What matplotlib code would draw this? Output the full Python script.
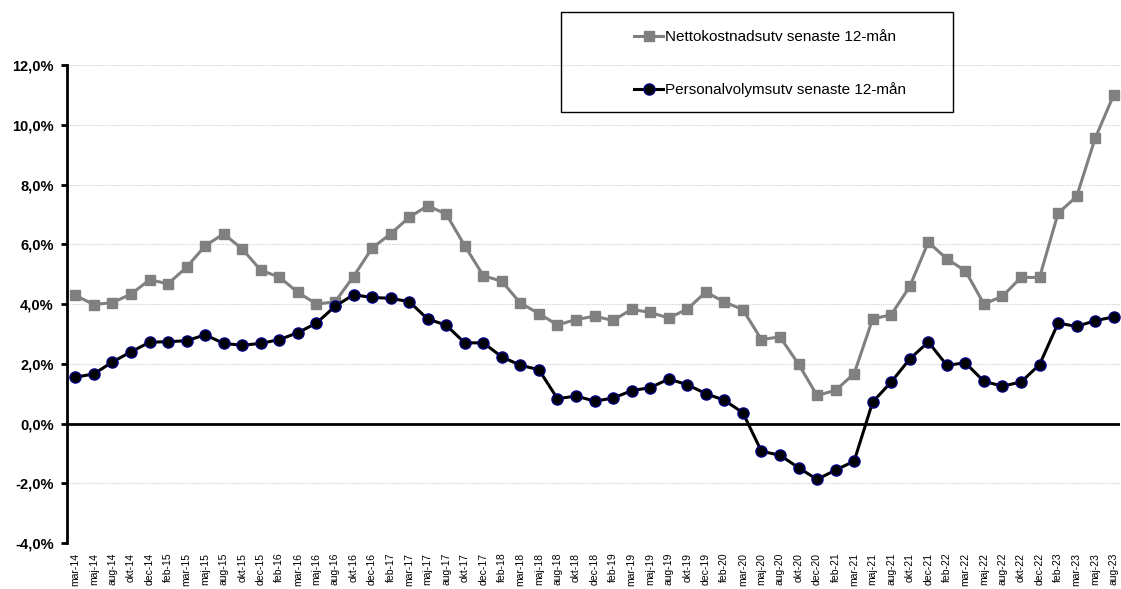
import matplotlib.pyplot as plt
from matplotlib.patches import Rectangle
from matplotlib.ticker import FuncFormatter

plt.rcParams['font.family'] = ['Liberation Sans', 'DejaVu Sans']

months = ["mar-14", "maj-14", "aug-14", "okt-14", "dec-14",
          "feb-15", "mar-15", "maj-15", "aug-15", "okt-15", "dec-15",
          "feb-16", "mar-16", "maj-16", "aug-16", "okt-16", "dec-16",
          "feb-17", "mar-17", "maj-17", "aug-17", "okt-17", "dec-17",
          "feb-18", "mar-18", "maj-18", "aug-18", "okt-18", "dec-18",
          "feb-19", "mar-19", "maj-19", "aug-19", "okt-19", "dec-19",
          "feb-20", "mar-20", "maj-20", "aug-20", "okt-20", "dec-20",
          "feb-21", "mar-21", "maj-21", "aug-21", "okt-21", "dec-21",
          "feb-22", "mar-22", "maj-22", "aug-22", "okt-22", "dec-22",
          "feb-23", "mar-23", "maj-23", "aug-23"]

# Nettokostnadsutveckling senaste 12 mån (%)
netto = [4.29, 3.98, 4.05, 4.33, 4.81, 4.68, 5.23, 5.95, 6.35, 5.84, 5.13,
         4.90, 4.39, 4.00, 4.07, 4.92, 5.87, 6.35, 6.90, 7.29, 7.01, 5.95,
         4.95, 4.76, 4.03, 3.68, 3.30, 3.48, 3.59, 3.45, 3.82, 3.72, 3.53,
         3.83, 4.40, 4.07, 3.81, 2.81, 2.90, 1.99, 0.94, 1.11, 1.67, 3.50,
         3.64, 4.59, 6.07, 5.51, 5.11, 4.00, 4.26, 4.89, 4.89, 7.04, 7.60,
         9.55, 11.00]

# Personalvolymsutveckling senaste 12 mån (%)
personal = [1.55, 1.66, 2.06, 2.40, 2.72, 2.74, 2.77, 2.97, 2.68, 2.62, 2.68,
            2.81, 3.04, 3.36, 3.92, 4.31, 4.22, 4.19, 4.08, 3.50, 3.29, 2.70,
            2.70, 2.23, 1.95, 1.80, 0.83, 0.92, 0.75, 0.85, 1.10, 1.20, 1.49,
            1.30, 1.00, 0.78, 0.36, -0.93, -1.06, -1.48, -1.87, -1.56, -1.26,
            0.72, 1.39, 2.16, 2.73, 1.95, 2.03, 1.41, 1.25, 1.39, 1.97, 3.36,
            3.25, 3.44, 3.57]

x = list(range(len(months)))

fig = plt.figure(figsize=(11.21, 5.89), dpi=100)
ax = fig.add_axes([0.0598, 0.0781, 0.9395, 0.8115])

ax.plot(x, netto, color="#808080", lw=2.2, marker="s", ms=6.5,
        mfc="#808080", mec="#808080", label="Nettokostnadsutv senaste 12-mån", zorder=3)
ax.plot(x, personal, color="black", lw=2.2, marker="o", ms=8,
        mfc="black", mec="#000080", mew=1.0, label="Personalvolymsutv senaste 12-mån", zorder=4)

ax.axhline(0, color="black", lw=2, zorder=2)

ax.set_ylim(-4, 12)
ax.set_yticks([-4, -2, 0, 2, 4, 6, 8, 10, 12])
ax.yaxis.set_major_formatter(FuncFormatter(lambda v, p: ("%.1f%%" % v).replace(".", ",")))
ax.set_xlim(-0.45, 56.35)
ax.set_xticks(x)
ax.set_xticklabels(months, rotation=90, fontsize=7.5)

ax.grid(axis="y", color="#d0d0d0", lw=0.8, ls=(0, (1, 1)), zorder=0)

for s in ["top", "right", "bottom"]:
    ax.spines[s].set_visible(False)
ax.spines["left"].set_linewidth(2)
ax.tick_params(axis="y", length=4, width=2, labelsize=10.5, pad=5.5)
ax.tick_params(axis="x", length=0, pad=7)
for lbl in ax.get_yticklabels():
    lbl.set_fontweight("bold")

# legend box
fig.patches.append(Rectangle((561 / 1121, 1 - 112 / 589), 392 / 1121, 100 / 589,
                             transform=fig.transFigure, fill=False,
                             edgecolor="black", lw=1))
ax.legend(loc="upper left", bbox_to_anchor=(634 / 1121, 1 - 30 / 589),
          bbox_transform=fig.transFigure, frameon=False, fontsize=11,
          handlelength=1.9, handletextpad=0.1, labelspacing=2.5,
          borderaxespad=0, borderpad=0)

fig.savefig("out.png", dpi=100)
